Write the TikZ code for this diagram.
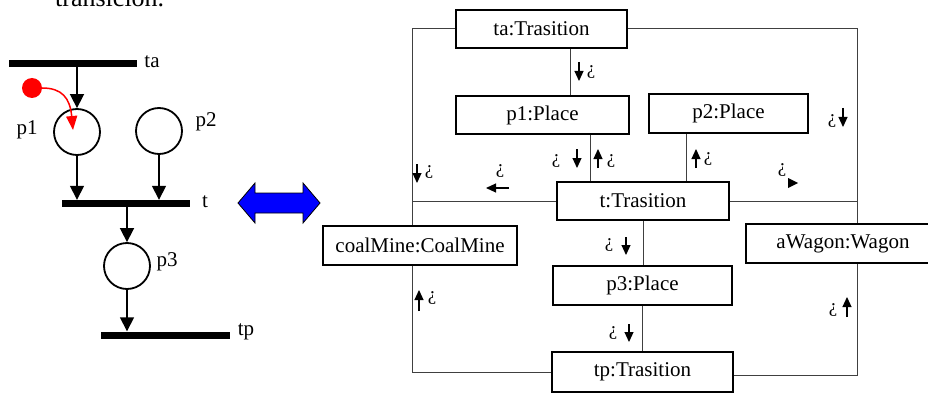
\documentclass[tikz,border=0pt]{standalone}
\usepackage{fontspec}
\setmainfont{Liberation Serif}
\usetikzlibrary{arrows.meta,calc}
\begin{document}
\begin{tikzpicture}[x=1pt,y=-1pt,
  obj/.style={draw, line width=1.8pt, rectangle, inner sep=0pt, font=\fontsize{21}{25}\selectfont},
  conn/.style={draw=black!75, line width=1pt},
  bar/.style={fill=black, rectangle, inner sep=0pt, minimum height=7pt},
  place/.style={draw, circle, line width=1.8pt, minimum size=46pt, inner sep=0pt},
  arc/.style={line width=1.6pt, -{Triangle[length=14pt,width=14pt]}},
  lbl/.style={font=\fontsize{21}{25}\selectfont, inner sep=0pt},
  qm/.style={font=\fontsize{19}{21}\selectfont, inner sep=0pt},
  sarr/.style={line width=1.1pt, -{Triangle[length=10pt,width=9pt]}}
]
\useasboundingbox (0,0) rectangle (928,393);

% clipped caption text at the top
\node[anchor=base west, font=\fontsize{26}{30}\selectfont, inner sep=0pt] (cap) at (55,7) {transición.};

% ---------- left Petri net ----------
\node[bar, minimum width=128pt] (tabar) at (73,63.5) {};
\node[bar, minimum width=128pt] (tbar) at (126,203.5) {};
\node[bar, minimum width=129pt] (tpbar) at (165.5,335) {};
\node[place] (pp1) at (77,132) {};
\node[place] (pp2) at (159,131) {};
\node[place] (pp3) at (127,266) {};

\node[lbl] (lta) at (152,62) {ta};
\node[lbl] (lp1) at (27,130) {p1};
\node[lbl] (lp2) at (206,122) {p2};
\node[lbl] (lt) at (205,202) {t};
\node[lbl] (lp3) at (167,262) {p3};
\node[lbl] (ltp) at (246,332) {tp};

\draw[arc] (tabar.south -| pp1.north) -- (pp1.north);
\draw[arc] (pp1.south) -- (pp1.south |- tbar.north);
\draw[arc] (pp2.south) -- (pp2.south |- tbar.north);
\draw[arc] (tbar.south -| pp3.north) -- (pp3.north);
\draw[arc] (pp3.south) -- (pp3.south |- tpbar.north);

% red token
\node[circle, fill=red, minimum size=20pt, inner sep=0pt] (tok) at (32,88) {};
\coordinate (tokend) at (73,130);
\draw[red, line width=1.5pt, -{Triangle[length=14pt,width=11pt]}] (tok.east) .. controls (62,88) and (70,98) .. (tokend);

% blue double arrow
\filldraw[fill=blue, draw=black, line width=0.8pt]
  (238,203) -- (255,183) -- (255,193) -- (303,193) -- (303,183) -- (320,203)
  -- (303,223) -- (303,213) -- (255,213) -- (255,223) -- cycle;

% ---------- right object diagram ----------
\node[obj, minimum width=171pt, minimum height=38pt] (ta) at (541.5,29) {ta:Trasition};
\node[obj, minimum width=173pt, minimum height=38pt] (p1) at (542.5,115) {p1:Place};
\node[obj, minimum width=159pt, minimum height=39pt] (p2) at (728.5,113.5) {p2:Place};
\node[obj, minimum width=172pt, minimum height=38pt] (t) at (643,201) {t:Trasition};
\node[obj, minimum width=194pt, minimum height=39pt] (cm) at (420,245.5) {coalMine:CoalMine};
\node[obj, minimum width=194pt, minimum height=39pt] (aw) at (843,243.5) {aWagon:Wagon};
\node[obj, minimum width=179pt, minimum height=39pt] (p3) at (642.5,285.5) {p3:Place};
\node[obj, minimum width=181pt, minimum height=40pt] (tp) at (642.5,372) {tp:Trasition};

\coordinate (L) at (412,0);
\coordinate (R) at (857,0);

\draw[conn] (ta.west) -| (cm.north -| L);
\draw[conn] (t.west) -- (t.west -| L);
\draw[conn] (cm.south -| L) |- (tp.west);
\draw[conn] (ta.east) -| (aw.north -| R);
\draw[conn] (t.east) -- (t.east -| R);
\draw[conn] (aw.south -| R) |- ([yshift=-3pt]tp.east);
\draw[conn] ([xshift=28.5pt]ta.south) -- ([xshift=28.5pt]ta.south |- p1.north);
\draw[conn] ([xshift=47.5pt]p1.south) -- ([xshift=47.5pt]p1.south |- t.north);
\draw[conn] ([xshift=-42.5pt]p2.south) -- ([xshift=-42.5pt]p2.south |- t.north);
\draw[conn] (t.south) -- (t.south |- p3.north);
\draw[conn] (p3.south) -- (p3.south |- tp.north);

% role direction labels
\draw[sarr] (579,62) -- (579,81);  \node[qm] (q1) at (591,72) {¿};
\node[qm] (q2) at (556,161) {¿};   \draw[sarr] (577,149) -- (577,168);
\draw[sarr] (598,168) -- (598,149); \node[qm] (q3) at (611,161) {¿};
\draw[sarr] (696,168) -- (696,149); \node[qm] (q4) at (708,159) {¿};
\node[qm] (q5) at (832,121) {¿};   \draw[sarr] (843,108) -- (843,127);
\node[qm] (q6) at (782,170) {¿};
\fill (788,178) -- (798,183) -- (788,188) -- cycle;
\draw[sarr] (417,164) -- (417,183); \node[qm] (q7) at (429,172) {¿};
\node[qm] (q8) at (500,171) {¿};   \draw[sarr] (509,188) -- (486,188);
\node[qm] (q9) at (609,245) {¿};   \draw[sarr] (626,237) -- (626,255);
\draw[sarr] (419,311) -- (419,290); \node[qm] (q10) at (432,298) {¿};
\node[qm] (q11) at (613,333) {¿};  \draw[sarr] (629,324) -- (629,342);
\node[qm] (q12) at (833,310) {¿};  \draw[sarr] (847,317) -- (847,297);
\end{tikzpicture}
\end{document}
